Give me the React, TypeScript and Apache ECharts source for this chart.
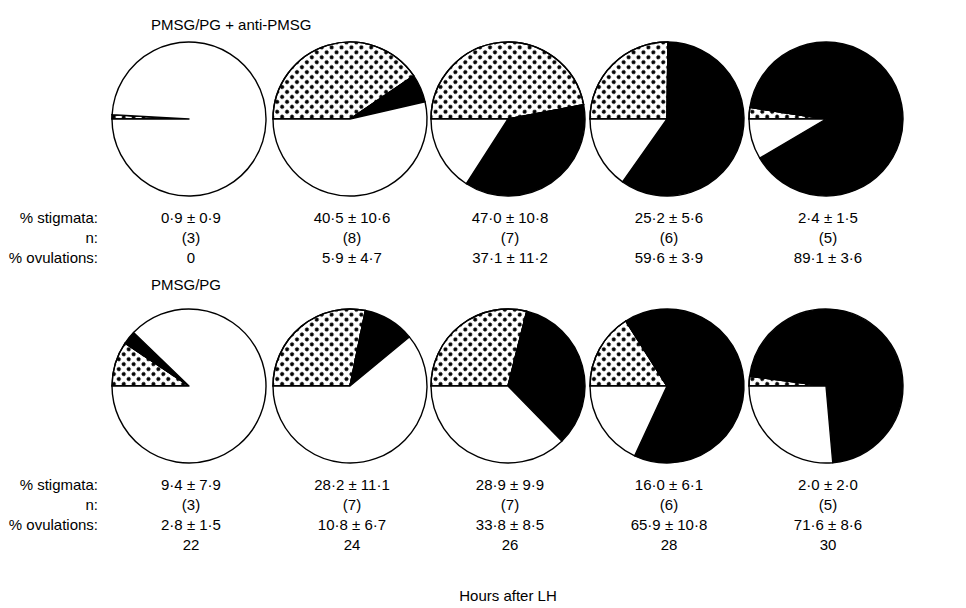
import React, { useEffect, useRef } from "react";
import * as echarts from "echarts";

// Data
const hours = [22, 24, 26, 28, 30];

// Top row: PMSG/PG + anti-PMSG
const topStig = [0.9, 40.5, 47.0, 25.2, 2.4];
const topStigSE = [0.9, 10.6, 10.8, 5.6, 1.5];
const topN = [3, 8, 7, 6, 5];
const topOv = [0, 5.9, 37.1, 59.6, 89.1];
const topOvSE: (number | null)[] = [null, 4.7, 11.2, 3.9, 3.6];

// Bottom row: PMSG/PG
const botStig = [9.4, 28.2, 28.9, 16.0, 2.0];
const botStigSE = [7.9, 11.1, 9.9, 6.1, 2.0];
const botN = [3, 7, 7, 6, 5];
const botOv = [2.8, 10.8, 33.8, 65.9, 71.6];
const botOvSE = [1.5, 6.7, 8.5, 10.8, 8.6];

const rowTitles = ["PMSG/PG + anti-PMSG", "PMSG/PG"];
const rowLabels = ["% stigmata:", "n:", "% ovulations:"];
const xTitle = "Hours after LH";

const FONT = '"Liberation Sans", Arial, Helvetica, sans-serif';
const fmt = (v: number) => v.toFixed(1).replace(".", "·");
const fmtPM = (v: number, se: number | null) =>
  se === null ? (v === 0 ? "0" : fmt(v)) : `${fmt(v)} ± ${fmt(se)}`;

export default function App() {
  const ref = useRef<HTMLDivElement>(null);
  useEffect(() => {
    if (!ref.current) return;
    const chart = echarts.init(ref.current, undefined, { renderer: "svg" });

    const cxs = [189, 350, 508, 667, 826];
    const cys = [119, 386];
    const R = 77;

    const dotted = {
      color: "#fff",
      borderColor: "#000",
      borderWidth: 1.4,
      decal: {
        symbol: "circle",
        symbolSize: 1,
        color: "#000",
        backgroundColor: "#fff",
        dashArrayX: [3.8, 2.6],
        dashArrayY: [3.8, 2.6],
        rotation: Math.PI / 4,
      },
    };
    const black = { color: "#000", borderColor: "#000", borderWidth: 1.4 };
    const white = { color: "#fff", borderColor: "#000", borderWidth: 1.4 };

    const series: any[] = [];
    const rows = [
      { stig: topStig, ov: topOv },
      { stig: botStig, ov: botOv },
    ];
    rows.forEach((row, ri) => {
      row.stig.forEach((s, i) => {
        const o = row.ov[i];
        series.push({
          type: "pie",
          center: [cxs[i], cys[ri]],
          radius: [0, R],
          startAngle: 180,
          clockwise: true,
          silent: true,
          avoidLabelOverlap: false,
          label: { show: false },
          labelLine: { show: false },
          emphasis: { disabled: true },
          minAngle: 0,
          data: [
            { name: "stigmata", value: s, itemStyle: dotted },
            { name: "ovulations", value: o, itemStyle: black },
            { name: "other", value: +(100 - s - o).toFixed(1), itemStyle: white },
          ],
        });
      });
    });

    const txt = (text: string, x: number, y: number, align = "center") => ({
      type: "text",
      x,
      y,
      silent: true,
      style: {
        text,
        fill: "#000",
        fontSize: 15,
        fontFamily: FONT,
        textAlign: align,
        textVerticalAlign: "middle",
      },
    });

    const graphics: any[] = [];
    graphics.push(txt(rowTitles[0], 151, 24, "left"));
    graphics.push(txt(rowTitles[1], 151, 284, "left"));
    const topY = [217, 237, 257];
    const botY = [484, 504, 524, 544];
    rowLabels.forEach((l, k) => {
      graphics.push(txt(l, 98, topY[k], "right"));
      graphics.push(txt(l, 98, botY[k], "right"));
    });
    for (let i = 0; i < 5; i++) {
      const tx = cxs[i] + 2;
      graphics.push(txt(fmtPM(topStig[i], topStigSE[i]), tx, topY[0]));
      graphics.push(txt(`(${topN[i]})`, tx, topY[1]));
      graphics.push(txt(fmtPM(topOv[i], topOvSE[i]), tx, topY[2]));
      graphics.push(txt(fmtPM(botStig[i], botStigSE[i]), tx, botY[0]));
      graphics.push(txt(`(${botN[i]})`, tx, botY[1]));
      graphics.push(txt(fmtPM(botOv[i], botOvSE[i]), tx, botY[2]));
      graphics.push(txt(String(hours[i]), tx, botY[3]));
    }
    graphics.push(txt(xTitle, 508, 595));

    chart.setOption({
      animation: false,
      backgroundColor: "#fff",
      series,
      graphic: graphics,
    });
    return () => chart.dispose();
  }, []);

  return (
    <div
      ref={ref}
      style={{ position: "fixed", left: 0, top: 0, width: 966, height: 608 }}
    />
  );
}
